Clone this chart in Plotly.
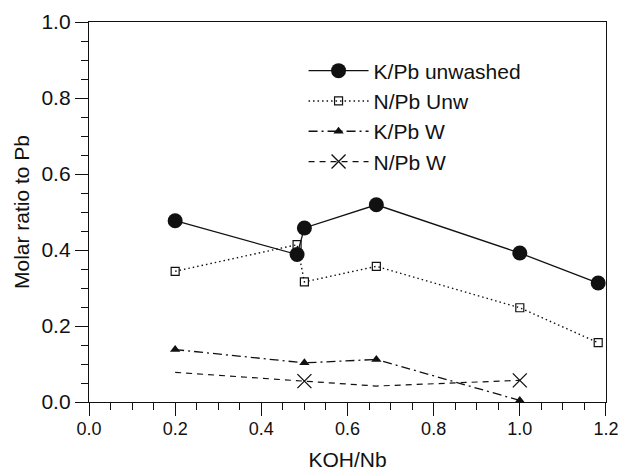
import plotly.graph_objects as go

# ---- data ----
x_kpb_unw = [0.2, 0.483, 0.5, 0.667, 1.0, 1.182]
y_kpb_unw = [0.477, 0.388, 0.458, 0.519, 0.392, 0.313]

x_npb_unw = [0.2, 0.483, 0.5, 0.667, 1.0, 1.182]
y_npb_unw = [0.344, 0.414, 0.316, 0.357, 0.248, 0.156]

x_kpb_w = [0.2, 0.5, 0.667, 1.0]
y_kpb_w = [0.138, 0.103, 0.112, 0.004]

x_npb_w = [0.2, 0.5, 0.667, 1.0]
y_npb_w = [0.078, 0.055, 0.042, 0.057]
npb_w_marked = [False, True, False, True]

x_ticks = [0.0, 0.2, 0.4, 0.6, 0.8, 1.0, 1.2]
y_ticks = [0.0, 0.2, 0.4, 0.6, 0.8, 1.0]

FONT = "Liberation Sans, Arial, sans-serif"
BLACK = "#111111"

fig = go.Figure()

fig.add_trace(go.Scatter(
    x=x_kpb_unw, y=y_kpb_unw, mode="lines+markers", name="K/Pb unwashed",
    line=dict(color=BLACK, width=1.3),
    marker=dict(symbol="circle", size=15, color=BLACK),
))
fig.add_trace(go.Scatter(
    x=x_npb_unw, y=y_npb_unw, mode="lines+markers", name="N/Pb Unw",
    line=dict(color=BLACK, width=1.4, dash="1.5px,3px"),
    marker=dict(symbol="square-open", size=8, color=BLACK, line=dict(width=1.2)),
))
fig.add_trace(go.Scatter(
    x=x_kpb_w, y=y_kpb_w, mode="lines+markers", name="K/Pb W",
    line=dict(color=BLACK, width=1.3, dash="9px,4px,2px,4px"),
    marker=dict(symbol="triangle-up", size=9, color=BLACK),
))
# N/Pb W: line through all points, markers only where marked
fig.add_trace(go.Scatter(
    x=x_npb_w, y=y_npb_w, mode="lines", name="N/Pb W", showlegend=False,
    line=dict(color=BLACK, width=1.2, dash="6px,5px"),
))
fig.add_trace(go.Scatter(
    x=[xv for xv, m in zip(x_npb_w, npb_w_marked) if m],
    y=[yv for yv, m in zip(y_npb_w, npb_w_marked) if m],
    mode="markers", name="N/Pb W", showlegend=False,
    marker=dict(symbol="x-thin", size=14, color=BLACK, line=dict(width=1.3, color=BLACK)),
))
# legend entry for N/Pb W
fig.add_trace(go.Scatter(
    x=[None], y=[None], mode="lines+markers", name="N/Pb W",
    line=dict(color=BLACK, width=1.2, dash="6px,5px"),
    marker=dict(symbol="x-thin", size=14, color=BLACK, line=dict(width=1.3, color=BLACK)),
))

axis_common = dict(
    showgrid=False, zeroline=False, showline=True, linecolor=BLACK, linewidth=1.3,
    mirror=True, ticks="outside", ticklen=13, tickwidth=1.2, tickcolor=BLACK,
    automargin=False, ticklabeloverflow="allow",
)

fig.update_layout(
    width=619, height=471,
    margin=dict(l=89, r=13, t=22, b=69),
    paper_bgcolor="white", plot_bgcolor="white",
    font=dict(family=FONT, color=BLACK),
    xaxis=dict(
        range=[0, 1.2001], tickvals=x_ticks, ticktext=[f"{v:.1f}" for v in x_ticks],
        minor=dict(dtick=0.05, ticklen=7, ticks="outside", tickcolor=BLACK, tickwidth=1.1),
        tickfont=dict(family=FONT, size=18, color=BLACK),
        title=dict(text="KOH/Nb", font=dict(family=FONT, size=21, color=BLACK), standoff=17),
        ticklabelstandoff=-3,
        **axis_common,
    ),
    yaxis=dict(
        range=[0, 1.0], tickvals=y_ticks, ticktext=[f"{v:.1f}" for v in y_ticks],
        minor=dict(dtick=0.05, ticklen=7, ticks="outside", tickcolor=BLACK, tickwidth=1.1),
        tickfont=dict(family=FONT, size=21, color=BLACK),
        title=dict(text="Molar ratio to Pb", font=dict(family=FONT, size=21, color=BLACK), standoff=6),
        **axis_common,
    ),
    legend=dict(
        x=0.415, y=0.925, xanchor="left", yanchor="top",
        font=dict(family=FONT, size=21, color=BLACK),
        bgcolor="rgba(0,0,0,0)", itemwidth=60, tracegroupgap=0,
    ),
    showlegend=True,
)

fig.write_html("out.html")
